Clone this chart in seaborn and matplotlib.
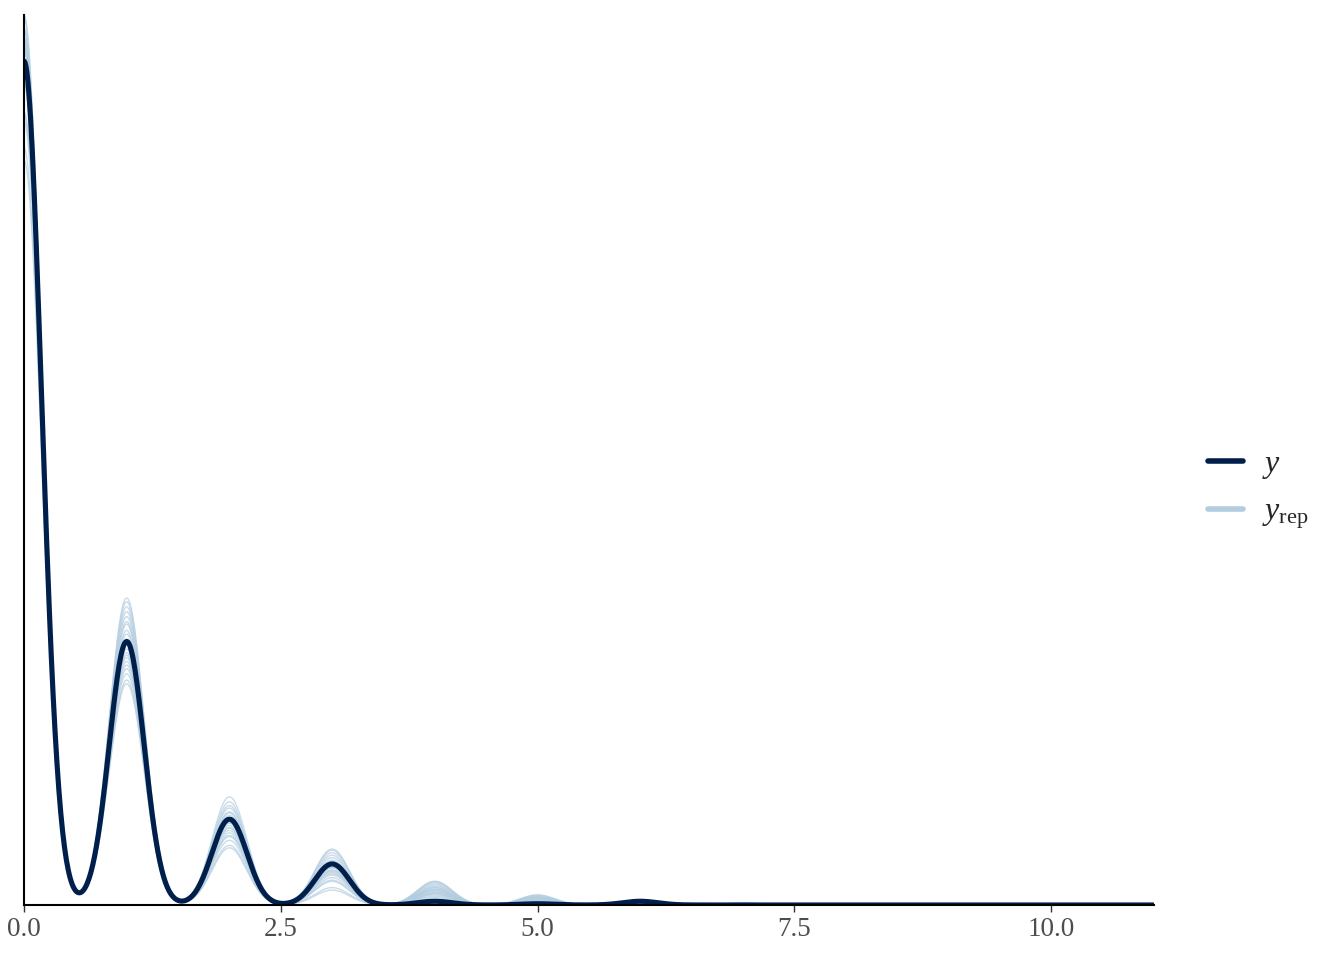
import numpy as np
import matplotlib
matplotlib.use("Agg")
import matplotlib.pyplot as plt
import seaborn as sns
from matplotlib.lines import Line2D

# ---- data: observed counts and replicated counts (frequency per value, n = 1000) ----
values = np.arange(0, 12)  # count values 0..11

y_counts = [679, 212, 69, 33, 3, 1, 3, 0, 0, 0, 0, 0]

yrep_counts = [
    [609, 247, 80, 40, 15, 6, 2, 1, 0, 0, 0, 0],
    [599, 240, 87, 45, 18, 7, 2, 1, 0, 1, 0, 0],
    [636, 232, 75, 38, 12, 5, 1, 0, 0, 0, 0, 1],
    [638, 226, 70, 35, 19, 8, 2, 2, 0, 0, 0, 0],
    [661, 221, 68, 30, 14, 4, 1, 1, 0, 0, 0, 0],
    [661, 218, 72, 33, 10, 5, 0, 0, 1, 0, 0, 0],
    [667, 214, 66, 28, 16, 6, 2, 1, 0, 0, 0, 0],
    [676, 210, 64, 36, 9, 3, 1, 0, 0, 1, 0, 0],
    [687, 206, 62, 25, 13, 6, 1, 0, 0, 0, 0, 0],
    [692, 203, 60, 27, 11, 4, 2, 1, 0, 0, 0, 0],
    [676, 199, 78, 22, 17, 7, 1, 0, 0, 0, 0, 0],
    [690, 196, 74, 30, 8, 2, 0, 0, 0, 0, 0, 0],
    [698, 193, 70, 20, 12, 5, 1, 1, 0, 0, 0, 0],
    [706, 190, 62, 28, 10, 3, 1, 0, 0, 0, 0, 0],
    [714, 186, 66, 24, 7, 2, 1, 0, 0, 0, 0, 0],
    [716, 181, 58, 30, 9, 4, 1, 0, 1, 0, 0, 0],
    [704, 178, 55, 42, 12, 6, 2, 1, 0, 0, 0, 0],
    [698, 228, 52, 14, 6, 2, 0, 0, 0, 0, 0, 0],
    [690, 236, 48, 19, 4, 2, 1, 0, 0, 0, 0, 0],
    [693, 244, 46, 12, 3, 2, 0, 0, 0, 0, 0, 0],
    [630, 212, 83, 44, 19, 8, 2, 1, 0, 1, 0, 0],
    [698, 201, 56, 26, 14, 4, 1, 0, 0, 0, 0, 0],
]

tick_values = [0.0, 2.5, 5.0, 7.5, 10.0]
tick_labels = ["0.0", "2.5", "5.0", "7.5", "10.0"]

# ---- style ----
sns.set_theme(style="white")
plt.rcParams["font.family"] = ["Liberation Serif", "DejaVu Serif"]
plt.rcParams["mathtext.fontset"] = "custom"
plt.rcParams["mathtext.rm"] = "Liberation Serif"
plt.rcParams["mathtext.it"] = "Liberation Serif:italic"

COL_Y = "#011f4b"
COL_YREP = "#b3cde0"
BW = 0.17  # kernel bandwidth in data units


def bw_factor(w):
    sd = np.sqrt(np.cov(values.astype(float), aweights=np.asarray(w, float)))
    return BW / sd


fig = plt.figure(figsize=(13.44, 9.6), dpi=100)
ax = fig.add_axes([24 / 1344, 55 / 960, (1153.7 - 24) / 1344, (905 - 15) / 960])

for row in yrep_counts:
    sns.kdeplot(x=values, weights=row, bw_method=bw_factor(row), cut=0,
                gridsize=1200, color=COL_YREP, lw=1.0, alpha=0.7, ax=ax)

sns.kdeplot(x=values, weights=y_counts, bw_method=bw_factor(y_counts), cut=0,
            gridsize=1200, color=COL_Y, lw=3.7, ax=ax)

ax.set_xlim(0, 11)
ymax = max(l.get_ydata().max() for l in ax.get_lines())
ax.set_ylim(0, ymax)

ax.set_xlabel("")
ax.set_ylabel("")
ax.set_yticks([])
ax.set_xticks(tick_values)
ax.set_xticklabels(tick_labels)
ax.tick_params(axis="x", bottom=True, length=5, width=1.0, color="#333333",
               pad=4, labelsize=19.5, labelcolor="#4d4d4d")

for side in ["top", "right"]:
    ax.spines[side].set_visible(False)
for side in ["left", "bottom"]:
    ax.spines[side].set_visible(True)
    ax.spines[side].set_color("black")
    ax.spines[side].set_linewidth(1.5)

handles = [Line2D([], [], color=COL_Y, lw=4.0),
           Line2D([], [], color=COL_YREP, lw=4.0)]
labels = [r"$y$", r"$y_{\mathrm{rep}}$"]
fig.legend(handles, labels, loc="center left", bbox_to_anchor=(1179 / 1344, 0.489),
           frameon=False, fontsize=23, handlelength=1.1, handletextpad=0.6,
           labelspacing=0.52, borderpad=0.4)

fig.savefig("out.png", dpi=100)
